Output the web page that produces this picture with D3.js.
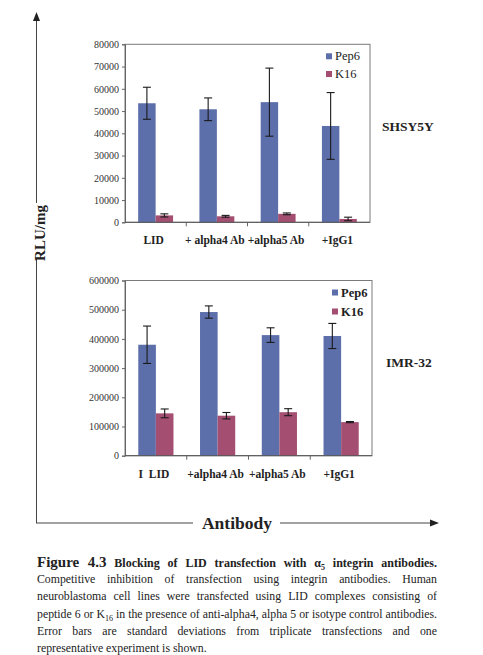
<!DOCTYPE html>
<html>
<head>
<meta charset="utf-8">
<script src="https://cdn.jsdelivr.net/npm/d3@7"></script>
<style>
  body { margin: 0; background: #fff; }
  #wrap { position: relative; width: 483px; height: 655px; overflow: hidden; }
  svg { position: absolute; left: 0; top: 0; }
  .cap { position: absolute; left: 37px; width: 400px; font-family: "Liberation Serif", "Times New Roman", serif;
         font-size: 11.8px; color: #222; }
  .cap div { height: 17.2px; line-height: 17.2px; text-align: justify; text-align-last: justify; white-space: normal; overflow: visible; }
  .cap div.last { text-align-last: left; }
</style>
</head>
<body>
<div id="wrap"></div>
<script>
// categories / series
const seriesNames = ['Pep6', 'K16'];
const categoriesTop = ['LID', '+ alpha4 Ab', '+alpha5 Ab', '+IgG1'];
const categoriesBottom = ['I  LID', '+alpha4 Ab', '+alpha5 Ab', '+IgG1'];

// SHSY5Y
const shsyPep6   = [53500, 50800, 54000, 43300];
const shsyPep6Sd = [7200, 5100, 15300, 15000];
const shsyK16    = [3100, 2700, 3800, 1500];
const shsyK16Sd  = [700, 400, 400, 800];
const shsyTicks  = [0, 10000, 20000, 30000, 40000, 50000, 60000, 70000, 80000];

// IMR-32
const imrPep6   = [380000, 492000, 413000, 410000];
const imrPep6Sd = [64000, 21000, 25000, 43000];
const imrK16    = [145000, 137000, 149000, 115000];
const imrK16Sd  = [15000, 11000, 12000, 2000];
const imrTicks  = [0, 100000, 200000, 300000, 400000, 500000, 600000];

const colors = ['#5d6fab', '#a44f71'];
const serif = '"Liberation Serif", "Times New Roman", serif';

const wrap = d3.select('#wrap');
const svg = wrap.append('svg').attr('width', 483).attr('height', 655);

function drawPanel (opt) {
    let g = svg.append('g').attr('transform', `translate(${opt.left},${opt.top})`);
    let w = opt.width, h = opt.height;

    let x0 = d3.scaleBand().domain(opt.categories).range([0, w]).padding(0);
    let barW = x0.bandwidth() * 0.285;
    let x1 = d3.scaleBand().domain(seriesNames).range([0, barW * 2]);
    let y = d3.scaleLinear().domain([0, opt.ticks[opt.ticks.length - 1]]).range([h, 0]);

    let rows = [];
    opt.categories.forEach((c, i) => {
        seriesNames.forEach((s, j) => {
            rows.push({cat: c, series: s, v: opt.values[j][i], sd: opt.sds[j][i], idx: j});
        });
    });

    // frame
    g.append('rect')
        .attr('x', 0).attr('y', 0).attr('width', w).attr('height', h)
        .attr('fill', 'none').attr('stroke', '#7a7a7a').attr('stroke-width', 1);

    // bars
    g.selectAll('rect.bar')
        .data(rows)
        .enter()
        .append('rect')
        .attr('class', 'bar')
        .attr('x', d => x0(d.cat) + x0.bandwidth() / 2 - barW + x1(d.series))
        .attr('width', x1.bandwidth())
        .attr('y', d => y(d.v))
        .attr('height', d => h - y(d.v))
        .attr('fill', d => colors[d.idx]);

    // error bars
    let err = g.selectAll('g.err').data(rows).enter().append('g').attr('class', 'err')
        .attr('stroke', '#1a1a1a').attr('stroke-width', 1.1);
    let cx = d => x0(d.cat) + x0.bandwidth() / 2 - barW + x1(d.series) + x1.bandwidth() / 2;
    err.append('line')
        .attr('x1', cx).attr('x2', cx)
        .attr('y1', d => y(d.v + d.sd)).attr('y2', d => y(d.v - d.sd));
    err.append('line')
        .attr('x1', d => cx(d) - 4).attr('x2', d => cx(d) + 4)
        .attr('y1', d => y(d.v + d.sd)).attr('y2', d => y(d.v + d.sd));
    err.append('line')
        .attr('x1', d => cx(d) - 4).attr('x2', d => cx(d) + 4)
        .attr('y1', d => y(d.v - d.sd)).attr('y2', d => y(d.v - d.sd));

    // y axis
    let yAxis = g.append('g')
        .call(d3.axisLeft(y).tickValues(opt.ticks).tickFormat(d3.format('d')).tickSize(3).tickPadding(3));
    yAxis.select('.domain').attr('stroke', '#666');
    yAxis.selectAll('.tick line').attr('stroke', '#666');
    yAxis.selectAll('text').attr('font-family', serif).attr('font-size', 10).attr('fill', '#333');

    // x axis ticks at category boundaries
    g.selectAll('line.xt')
        .data(opt.categories.slice(1))
        .enter()
        .append('line')
        .attr('x1', d => x0(d)).attr('x2', d => x0(d))
        .attr('y1', h).attr('y2', h + 4)
        .attr('stroke', '#666');
    g.append('line').attr('x1', 0).attr('x2', w).attr('y1', h).attr('y2', h).attr('stroke', '#555');

    // category labels
    g.selectAll('text.cat')
        .data(opt.categories)
        .enter()
        .append('text')
        .attr('x', d => x0(d) + x0.bandwidth() / 2 - 2)
        .attr('y', h + opt.labelDy)
        .attr('text-anchor', 'middle')
        .attr('font-family', serif)
        .attr('font-weight', 'bold')
        .attr('font-size', 11.5)
        .attr('fill', '#222')
        .attr('xml:space', 'preserve')
        .text(d => d);

    // legend
    let lg = g.append('g').attr('transform', `translate(${opt.legendX},${opt.legendY})`);
    seriesNames.forEach((s, j) => {
        lg.append('rect').attr('x', 0).attr('y', j * opt.legendGap - 3)
            .attr('width', 6).attr('height', 6).attr('fill', colors[j]);
        lg.append('text').attr('x', 9).attr('y', j * opt.legendGap + 4)
            .attr('font-family', serif).attr('font-size', 12.5)
            .attr('font-weight', opt.legendBold ? 'bold' : 'normal')
            .attr('fill', '#222').text(s);
    });

    // cell line name
    svg.append('text')
        .attr('x', opt.nameX).attr('y', opt.nameY)
        .attr('font-family', serif).attr('font-weight', 'bold').attr('font-size', 13.5)
        .attr('fill', '#222').text(opt.name);
}

drawPanel({
    left: 125, top: 44.3, width: 245, height: 178,
    categories: categoriesTop, values: [shsyPep6, shsyK16], sds: [shsyPep6Sd, shsyK16Sd],
    ticks: shsyTicks, labelDy: 22, legendX: 201, legendY: 12, legendGap: 17.7, legendBold: false,
    name: 'SHSY5Y', nameX: 382, nameY: 131
});

drawPanel({
    left: 125, top: 280.5, width: 247, height: 175.2,
    categories: categoriesBottom, values: [imrPep6, imrK16], sds: [imrPep6Sd, imrK16Sd],
    ticks: imrTicks, labelDy: 22, legendX: 207, legendY: 12, legendGap: 19, legendBold: true,
    name: 'IMR-32', nameX: 386, nameY: 367
});

// outer axes
svg.append('line').attr('x1', 36.5).attr('x2', 36.5).attr('y1', 20).attr('y2', 203).attr('stroke', '#444');
svg.append('line').attr('x1', 36.5).attr('x2', 36.5).attr('y1', 259).attr('y2', 523).attr('stroke', '#444');
svg.append('path').attr('d', 'M36.5,12 L33,21 L40,21 Z').attr('fill', '#222');
svg.append('text')
    .attr('transform', 'translate(45,233) rotate(-90)')
    .attr('text-anchor', 'middle')
    .attr('font-family', serif).attr('font-weight', 'bold').attr('font-size', 15)
    .attr('fill', '#222').text('RLU/mg');

svg.append('line').attr('x1', 36).attr('x2', 193).attr('y1', 523).attr('y2', 523).attr('stroke', '#444');
svg.append('line').attr('x1', 280).attr('x2', 431).attr('y1', 523).attr('y2', 523).attr('stroke', '#444');
svg.append('path').attr('d', 'M439,523 L430,519.5 L430,526.5 Z').attr('fill', '#222');
svg.append('text')
    .attr('x', 237).attr('y', 529)
    .attr('text-anchor', 'middle')
    .attr('font-family', serif).attr('font-weight', 'bold').attr('font-size', 17.5)
    .attr('fill', '#222').text('Antibody');

// caption
const cap = wrap.append('div').attr('class', 'cap').style('top', '554px');
cap.append('div').html('<b style="font-size:15px">Figure 4.3</b> <b style="font-size:12px">Blocking of LID transfection with &alpha;<sub style="font-size:8px;line-height:0">5</sub> integrin antibodies.</b>');
cap.append('div').text('Competitive inhibition of transfection using integrin antibodies. Human');
cap.append('div').text('neuroblastoma cell lines were transfected using LID complexes consisting of');
cap.append('div').html('peptide 6 or K<sub style="font-size:8px;line-height:0">16</sub> in the presence of anti-alpha4, alpha 5 or isotype control antibodies.');
cap.append('div').text('Error bars are standard deviations from triplicate transfections and one');
cap.append('div').attr('class', 'last').text('representative experiment is shown.');
</script>
</body>
</html>
